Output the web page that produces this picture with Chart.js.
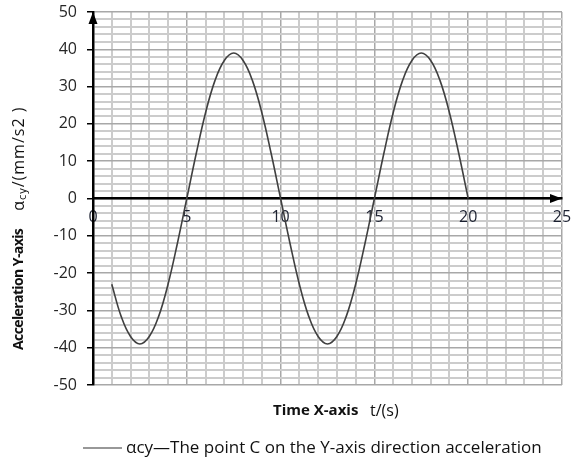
<!DOCTYPE html>
<html>
<head>
<meta charset="utf-8">
<script src="https://cdn.jsdelivr.net/npm/chart.js@4.4.1/dist/chart.umd.min.js"></script>
<style>
  html, body { margin: 0; padding: 0; background: #fff; }
</style>
</head>
<body>
<canvas id="accel-chart" width="572" height="464"></canvas>
<script>
// ── Data ──────────────────────────────────────────────────────────────────────
const timeS = [
  1, 1.5, 2, 2.5, 3, 3.5, 4, 4.5, 5,
  5.5, 6, 6.5, 7, 7.5, 8, 8.5, 9, 9.5, 10,
  10.5, 11, 11.5, 12, 12.5, 13, 13.5, 14, 14.5, 15,
  15.5, 16, 16.5, 17, 17.5, 18, 18.5, 19, 19.5, 20,
];
const accelCy = [
  -23, -31.6, -37, -39, -37, -31.6, -23, -12, 0,
  12, 23, 31.6, 37, 39, 37, 31.6, 23, 12, 0,
  -12, -23, -31.6, -37, -39, -37, -31.6, -23, -12, 0,
  12, 23, 31.6, 37, 39, 37, 31.6, 23, 12, 0,
];
const xTickLabels = [0, 5, 10, 15, 20, 25];
const yTickLabels = [-50, -40, -30, -20, -10, 0, 10, 20, 30, 40, 50];

const yTitleBold = "Acceleration Y-axis";
const xTitleBold = "Time X-axis";
const xTitleUnit = "t/(s)";
const legendText = "αcy—The point C on the Y-axis direction acceleration";

const FONT = '"Open Sans", "Liberation Sans", sans-serif';
const MINOR_GRID = "#cccccc";
const MAJOR_GRID = "#a8a8a8";

// drop the auto margins Chart.js reserves for edge labels
function noEdgePadding(s) {
  s.paddingTop = 0; s.paddingBottom = 0;
  s.paddingLeft = 0; s.paddingRight = 0;
}

// ── Arrows, axis titles and legend ────────────────────────────────────────────
const decorations = {
  id: "decorations",
  afterDraw(chart) {
    const { ctx, scales: { x, y } } = chart;
    const x0 = x.getPixelForValue(0);
    const xEnd = x.getPixelForValue(25);
    const y0 = y.getPixelForValue(0);
    const yTop = y.getPixelForValue(50);
    ctx.save();

    // arrow heads
    ctx.fillStyle = "#000";
    ctx.beginPath();
    ctx.moveTo(x0, yTop);
    ctx.lineTo(x0 - 4.5, yTop + 12);
    ctx.lineTo(x0 + 4.5, yTop + 12);
    ctx.closePath();
    ctx.fill();
    ctx.beginPath();
    ctx.moveTo(xEnd, y0);
    ctx.lineTo(xEnd - 12, y0 - 4.5);
    ctx.lineTo(xEnd - 12, y0 + 4.5);
    ctx.closePath();
    ctx.fill();

    // y title (rotated)
    ctx.fillStyle = "#111";
    ctx.textBaseline = "middle";
    ctx.textAlign = "left";
    ctx.save();
    ctx.translate(19, 350);
    ctx.rotate(-Math.PI / 2);
    ctx.letterSpacing = "-0.6px";
    ctx.font = `bold 14px ${FONT}`;
    ctx.fillText(yTitleBold, 0, 0);
    let px = ctx.measureText(yTitleBold).width + 18;
    ctx.letterSpacing = "1px";
    ctx.font = `16px ${FONT}`;
    ctx.fillText("α", px, 0);
    px += ctx.measureText("α").width;
    ctx.font = `11px ${FONT}`;
    ctx.fillText("cy", px, 4);
    px += ctx.measureText("cy").width;
    ctx.font = `16px ${FONT}`;
    ctx.fillText("/(mm/s2 )", px, 0);
    ctx.letterSpacing = "0px";
    ctx.restore();

    // x title
    ctx.font = `bold 15px ${FONT}`;
    ctx.fillText(xTitleBold, 273, 411);
    ctx.font = `16px ${FONT}`;
    ctx.fillText(xTitleUnit, 370, 411);

    // legend
    ctx.strokeStyle = "#333";
    ctx.lineWidth = 1.2;
    ctx.beginPath();
    ctx.moveTo(83, 448);
    ctx.lineTo(122, 448);
    ctx.stroke();
    ctx.font = `17px ${FONT}`;
    ctx.fillText(legendText, 126, 448);
    ctx.restore();
  },
};

// ── Chart ─────────────────────────────────────────────────────────────────────
new Chart(document.getElementById("accel-chart"), {
  type: "line",
  data: {
    datasets: [{
      label: legendText,
      data: timeS.map((t, i) => ({ x: t, y: accelCy[i] })),
      borderColor: "#404040",
      borderWidth: 1.6,
      tension: 0.4,
      pointRadius: 0,
      fill: false,
    }],
  },
  options: {
    responsive: false,
    animation: false,
    devicePixelRatio: 1,
    layout: { padding: { left: 0, right: 10, top: 12, bottom: 79 } },
    plugins: { legend: { display: false }, tooltip: { enabled: false } },
    scales: {
      x: {
        type: "linear",
        position: { y: 0 },
        min: 0,
        max: 25,
        afterFit: s => { s.height = 0; noEdgePadding(s); },
        ticks: {
          stepSize: 1,
          autoSkip: false,
          maxRotation: 0,
          padding: 9,
          color: "#1b2030",
          font: { family: FONT, size: 16 },
          callback: v => (xTickLabels.includes(v) ? v : ""),
        },
        grid: {
          drawTicks: false,
          color: c => (c.tick && c.tick.value % 5 === 0 ? MAJOR_GRID : MINOR_GRID),
          lineWidth: c => (c.tick && c.tick.value % 5 === 0 ? 1.5 : 2),
        },
        border: { color: "#000", width: 2.5 },
      },
      y: {
        min: -50,
        max: 50,
        afterFit: s => { s.width = 93; noEdgePadding(s); },
        ticks: {
          stepSize: 2,
          autoSkip: false,
          padding: 10,
          color: "#262626",
          font: { family: FONT, size: 16 },
          callback: v => (yTickLabels.includes(v) ? v : ""),
        },
        grid: {
          tickLength: 6,
          tickWidth: 1.5,
          tickColor: c => (c.tick && c.tick.value % 10 === 0 ? "#000" : "rgba(0,0,0,0)"),
          color: c => (c.tick && c.tick.value % 10 === 0 ? MAJOR_GRID : MINOR_GRID),
          lineWidth: c => (c.tick && c.tick.value % 10 === 0 ? 1.5 : 2),
        },
        border: { color: "#000", width: 2.5 },
      },
    },
  },
  plugins: [decorations],
});
</script>
</body>
</html>
